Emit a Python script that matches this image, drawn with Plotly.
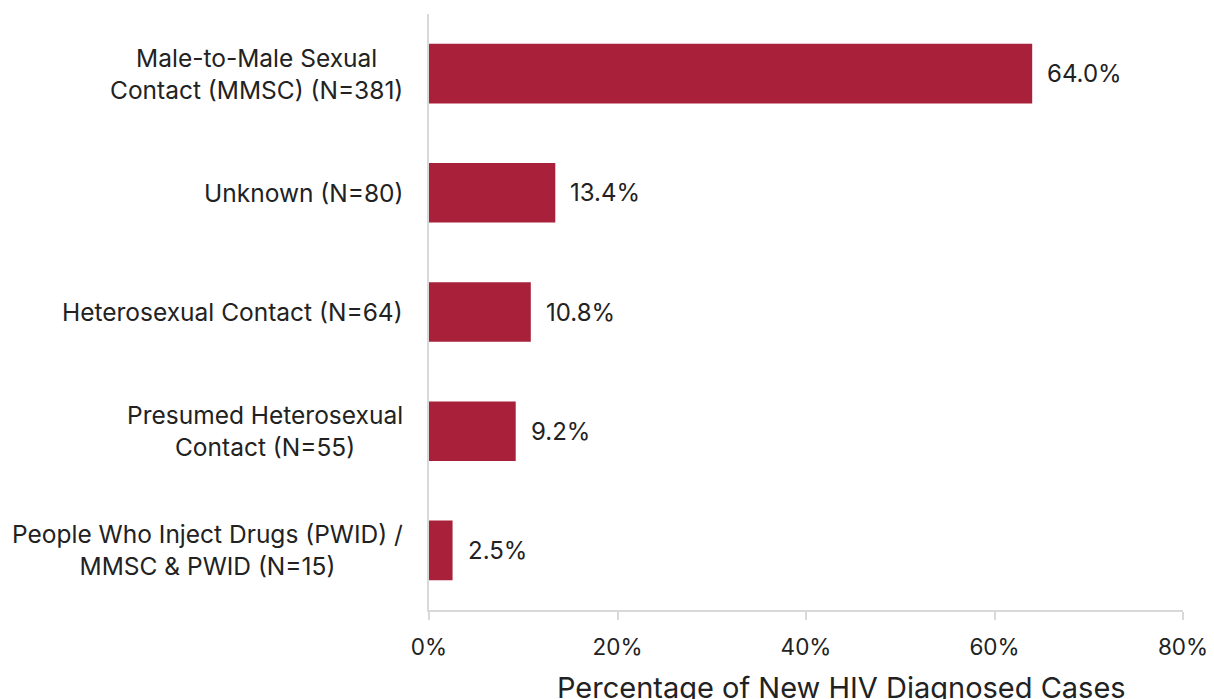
import plotly.graph_objects as go

categories = [
    "Male-to-Male Sexual<br>Contact (MMSC) (N=381)",
    "Unknown (N=80)",
    "Heterosexual Contact (N=64)",
    "Presumed Heterosexual<br>Contact (N=55)",
    "People Who Inject Drugs (PWID) /<br>MMSC & PWID (N=15)",
]
values = [64.0, 13.4, 10.8, 9.2, 2.5]
tick_vals = [0, 20, 40, 60, 80]
tick_text = ["0%", "20%", "40%", "60%", "80%"]
axis_title = "Percentage of New HIV Diagnosed Cases"

FONT = "Inter"
BAR = "#A8203A"
TXT = "#222222"
GRID = "#D9D9D9"

fig = go.Figure(go.Bar(
    y=categories, x=values, orientation="h",
    marker=dict(color=BAR, line=dict(width=0)),
    width=0.5, hoverinfo="x+y",
))

ann = []
# value labels
for cat, v in zip(categories, values):
    ann.append(dict(x=v, xref="x", y=cat, yref="y", xanchor="left", yanchor="middle",
                    xshift=13, text=f"{v:.1f}%", showarrow=False,
                    font=dict(family=FONT, size=24, color=TXT)))

# category labels: centered text block, right edge left of the axis
for cat in categories:
    ann.append(dict(x=0, xref="paper", xanchor="right", xshift=-24,
                    y=cat, yref="y", yanchor="middle", text=cat,
                    align="center", showarrow=False,
                    font=dict(family=FONT, size=24.5, color=TXT)))

ann.append(dict(x=0.5, xref="paper", xanchor="center", xshift=35,
                y=0, yref="paper", yanchor="middle", yshift=-77,
                text=axis_title, showarrow=False,
                font=dict(family=FONT, size=29, color=TXT)))

fig.update_layout(
    width=1206, height=691,
    margin=dict(l=421, r=31, t=6, b=89),
    plot_bgcolor="white", paper_bgcolor="white",
    showlegend=False,
    xaxis=dict(range=[0, 80], tickvals=tick_vals, ticktext=tick_text,
               showgrid=False, zeroline=False, showline=True,
               linecolor=GRID, linewidth=2, ticks="outside", ticklen=8,
               tickcolor=GRID, tickwidth=2, ticklabelstandoff=8,
               tickfont=dict(family=FONT, size=22.5, color=TXT)),
    yaxis=dict(autorange="reversed", showticklabels=False, showgrid=False,
               zeroline=False, showline=True, linecolor=GRID, linewidth=2,
               ticks=""),
    annotations=ann,
)

fig.write_html("out.html")
